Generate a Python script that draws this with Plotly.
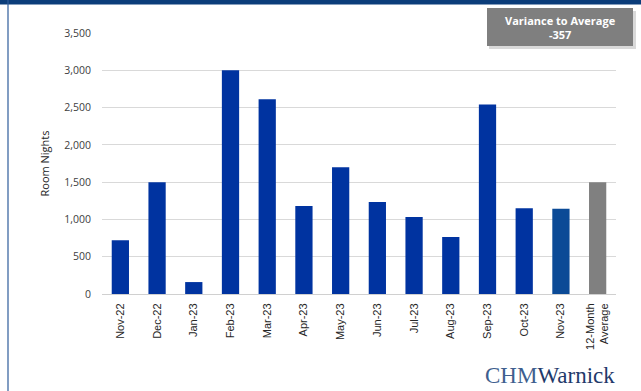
import plotly.graph_objects as go

categories = ["Nov-22", "Dec-22", "Jan-23", "Feb-23", "Mar-23", "Apr-23", "May-23",
              "Jun-23", "Jul-23", "Aug-23", "Sep-23", "Oct-23", "Nov-23", "12-Month<br>Average"]
values = [720, 1500, 160, 3000, 2610, 1180, 1700, 1233, 1032, 764, 2540, 1150, 1143, 1500]
colors = ["#0033a0"] * 12 + ["#0b4a96", "#808080"]
y_ticks = [0, 500, 1000, 1500, 2000, 2500, 3000, 3500]
y_tick_labels = ["0", "500", "1,000", "1,500", "2,000", "2,500", "3,000", "3,500"]
variance_text = "<b>Variance to Average<br>-357</b>"

W, H = 641, 391
L, R, T, B = 102, 25, 33, 97
pw, ph = W - L - R, H - T - B

def px(x):
    return (x - L) / pw

def py(y):
    return (H - B - y) / ph

fig = go.Figure(go.Bar(
    x=categories, y=values, marker=dict(color=colors, line=dict(width=0)),
    width=0.47,
))

shapes = [
    dict(type="rect", xref="paper", yref="paper", x0=px(-5), x1=px(W + 5), y0=py(4.5), y1=py(-5),
         fillcolor="#0b3d7a", line=dict(width=0), layer="above"),
    dict(type="line", xref="paper", yref="paper", x0=px(8), x1=px(8), y0=py(0), y1=py(H + 5),
         line=dict(color="#2e5c9a", width=1.2)),
    dict(type="rect", xref="paper", yref="paper", x0=px(489), x1=px(636), y0=py(11), y1=py(49),
         fillcolor="rgba(0,0,0,0.15)", line=dict(width=0), layer="above"),
    dict(type="rect", xref="paper", yref="paper", x0=px(487), x1=px(633), y0=py(8), y1=py(46),
         fillcolor="#7f7f7f", line=dict(width=0), layer="above"),
]

annotations = [
    dict(xref="paper", yref="paper", x=px(560), y=py(27), text=variance_text, showarrow=False,
         font=dict(family="Open Sans, Calibri, Arial", size=11, color="white"),
         xanchor="center", yanchor="middle", align="center"),
    dict(xref="paper", yref="paper", x=px(550), y=py(375),
         text="<span style='color:#3f5f8f'>CHM</span>Warnick", showarrow=False,
         font=dict(family="Liberation Serif, DejaVu Serif, serif", size=23, color="#1f3a6b"),
         xanchor="center", yanchor="middle"),
]

fig.update_layout(
    width=W, height=H,
    margin=dict(l=L, r=R, t=T, b=B),
    paper_bgcolor="white", plot_bgcolor="white",
    showlegend=False,
    shapes=shapes,
    annotations=annotations,
    xaxis=dict(
        tickangle=-90, tickfont=dict(family="Arial", size=11, color="#262626"),
        showgrid=False, showline=True, linecolor="#d0d0d0", linewidth=1,
        ticks="", ticklabelstandoff=4,
    ),
    yaxis=dict(
        range=[0, 3500], tickvals=y_ticks, ticktext=y_tick_labels,
        tickfont=dict(family="Open Sans, Calibri, Arial", size=10.5, color="#404040"),
        showgrid=True, gridcolor="#d9d9d9", gridwidth=1, zeroline=False,
        ticks="", ticklabelstandoff=10,
        title=dict(text="Room Nights", font=dict(family="Open Sans, Calibri, Arial", size=11, color="#262626"),
                   standoff=12),
    ),
)

fig.write_html("out.html")
